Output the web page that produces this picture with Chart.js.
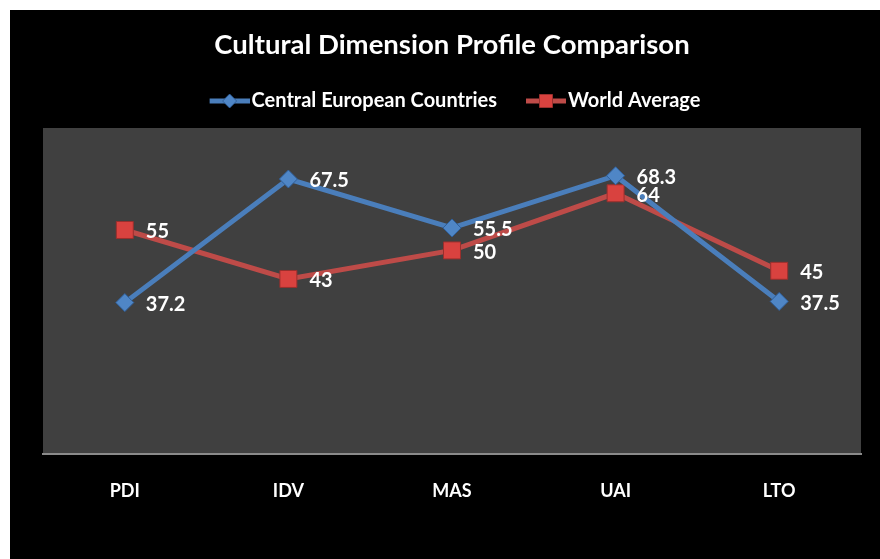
<!DOCTYPE html>
<html>
<head>
<meta charset="utf-8">
<title>Cultural Dimension Profile Comparison</title>
<script src="https://cdn.jsdelivr.net/npm/chart.js@4.4.0/dist/chart.umd.min.js"></script>
<style>
  html, body { margin: 0; background: #fff; }
  #wrap { position: absolute; left: 10px; top: 10px; width: 870px; height: 549px; background: #000; }
  canvas { display: block; }
</style>
</head>
<body>
<div id="wrap"><canvas id="cultureChart" width="870" height="549"></canvas></div>
<script>
// Hofstede dimensions and scores
var dimensions = ['PDI', 'IDV', 'MAS', 'UAI', 'LTO'];
var centralEurope = [37.2, 67.5, 55.5, 68.3, 37.5];
var worldAverage = [55, 43, 50, 64, 45];

var blueLine = '#4a7ebb';
var redLine = '#be4b48';
var fontFamily = 'Lato, "Open Sans", sans-serif';

// line + marker pictures for the legend; the line sits right of the
// picture's centre so it ends just before the label text
function legendIcon(lineColor, fill, stroke, shape) {
    var c = document.createElement('canvas');
    c.width = 54;
    c.height = 16;
    var g = c.getContext('2d');
    g.strokeStyle = lineColor;
    g.lineWidth = 5;
    g.beginPath();
    g.moveTo(14, 8);
    g.lineTo(54, 8);
    g.stroke();
    g.fillStyle = fill;
    g.strokeStyle = stroke;
    g.lineWidth = 1;
    g.beginPath();
    if (shape === 'diamond') {
        g.moveTo(34, 1); g.lineTo(41, 8); g.lineTo(34, 15); g.lineTo(27, 8); g.closePath();
    } else {
        g.rect(27.5, 1.5, 13, 13);
    }
    g.fill();
    g.stroke();
    return c;
}
var icons = [
    legendIcon(blueLine, '#4f86c6', '#2f5f9a', 'diamond'),
    legendIcon(redLine, '#d9423f', '#9a2f2d', 'square')
];

// extra room between legend and plot
var legendGap = {
    id: 'legendGap',
    beforeInit: function (chart) {
        var fit = chart.legend.fit;
        chart.legend.fit = function () {
            fit.call(this);
            this.height += 7;
        };
    }
};

// grey plot background
var plotBackground = {
    id: 'plotBackground',
    beforeDraw: function (chart) {
        var a = chart.chartArea;
        var ctx = chart.ctx;
        ctx.save();
        ctx.fillStyle = '#404040';
        ctx.fillRect(a.left, a.top, a.right - a.left, a.bottom - a.top);
        ctx.restore();
    }
};

// value labels right of each point
var valueLabels = {
    id: 'valueLabels',
    afterDatasetsDraw: function (chart) {
        var ctx = chart.ctx;
        ctx.save();
        ctx.fillStyle = '#fff';
        ctx.font = 'bold 20px ' + fontFamily;
        ctx.textAlign = 'left';
        ctx.textBaseline = 'middle';
        chart.data.datasets.forEach(function (ds, i) {
            var meta = chart.getDatasetMeta(i);
            meta.data.forEach(function (pt, j) {
                ctx.fillText(String(ds.data[j]), pt.x + 21, pt.y + 2);
            });
        });
        ctx.restore();
    }
};

var ctx = document.getElementById('cultureChart').getContext('2d');
var cultureChart = new Chart(ctx, {
    type: 'line',
    data: {
        labels: dimensions,
        datasets: [{
            label: 'Central European Countries',
            data: centralEurope,
            borderColor: blueLine,
            borderWidth: 5,
            pointStyle: 'rectRot',
            pointRadius: 9,
            pointBackgroundColor: '#4f86c6',
            pointBorderColor: '#2f5f9a',
            pointBorderWidth: 1,
            tension: 0
        }, {
            label: 'World Average',
            data: worldAverage,
            borderColor: redLine,
            borderWidth: 5,
            pointStyle: 'rect',
            pointRadius: 12,
            pointBackgroundColor: '#d9423f',
            pointBorderColor: '#9a2f2d',
            pointBorderWidth: 1,
            tension: 0
        }]
    },
    options: {
        responsive: false,
        animation: false,
        layout: {
            padding: { left: 33, right: 19, top: 0, bottom: 39 }
        },
        scales: {
            x: {
                offset: true,
                grid: { display: false },
                border: { display: true, color: '#8a8a8a', width: 2 },
                ticks: {
                    color: '#fff',
                    padding: 18,
                    font: { family: fontFamily, size: 18, weight: 'bold' }
                }
            },
            y: {
                display: false,
                min: 0,
                max: 80
            }
        },
        plugins: {
            title: {
                display: true,
                text: 'Cultural Dimension Profile Comparison',
                color: '#fff',
                font: { family: fontFamily, size: 27.5, weight: 'bold' },
                padding: { top: 18.5, bottom: 6.5 }
            },
            legend: {
                display: true,
                position: 'top',
                labels: {
                    color: '#fff',
                    font: { family: fontFamily, size: 20, weight: 'bold' },
                    usePointStyle: true,
                    pointStyleWidth: 38,
                    padding: 23,
                    generateLabels: function (chart) {
                        var items = Chart.defaults.plugins.legend.labels.generateLabels(chart);
                        items.forEach(function (item, i) {
                            item.pointStyle = icons[i];
                        });
                        return items;
                    }
                }
            },
            tooltip: { enabled: false }
        }
    },
    plugins: [legendGap, plotBackground, valueLabels]
});
</script>
</body>
</html>
